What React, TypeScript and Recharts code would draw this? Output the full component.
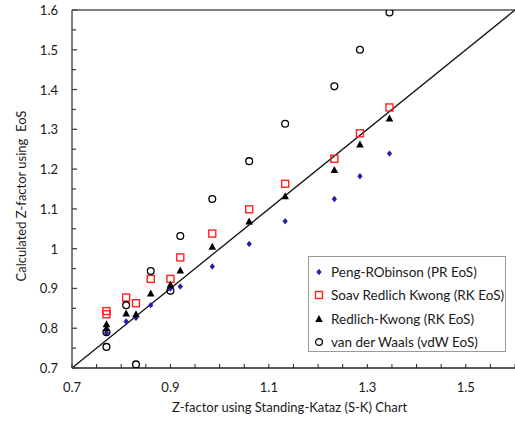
import React from 'react';
import { ScatterChart, Scatter, XAxis, YAxis, ReferenceLine, Legend } from 'recharts';

// x = Z-factor from Standing-Katz chart, y = Z-factor from each EoS
const prX = [0.77, 0.81, 0.83, 0.86, 0.9, 0.92, 0.985, 1.06, 1.133, 1.233, 1.285, 1.345];
const prY = [0.788, 0.817, 0.826, 0.858, 0.9, 0.905, 0.955, 1.012, 1.069, 1.125, 1.182, 1.239];

const srkX = [0.77, 0.77, 0.81, 0.83, 0.86, 0.9, 0.92, 0.985, 1.06, 1.133, 1.233, 1.285, 1.345];
const srkY = [0.843, 0.835, 0.877, 0.863, 0.924, 0.924, 0.978, 1.038, 1.099, 1.163, 1.226, 1.29, 1.355];

const rkX = [0.77, 0.77, 0.81, 0.83, 0.86, 0.9, 0.92, 0.985, 1.06, 1.133, 1.233, 1.285, 1.345];
const rkY = [0.8, 0.81, 0.837, 0.835, 0.887, 0.909, 0.945, 1.005, 1.068, 1.132, 1.198, 1.262, 1.327];

const vdwX = [0.77, 0.77, 0.81, 0.83, 0.86, 0.9, 0.92, 0.985, 1.06, 1.133, 1.233, 1.285, 1.345];
const vdwY = [0.79, 0.753, 0.858, 0.709, 0.944, 0.894, 1.032, 1.125, 1.22, 1.314, 1.408, 1.5, 1.594];

const xTicks = [0.7, 0.75, 0.8, 0.85, 0.9, 0.95, 1, 1.05, 1.1, 1.15, 1.2, 1.25, 1.3, 1.35, 1.4, 1.45, 1.5, 1.55, 1.6];
const xLabels = [0.7, 0.9, 1.1, 1.3, 1.5];
const yTicks = [0.7, 0.75, 0.8, 0.85, 0.9, 0.95, 1, 1.05, 1.1, 1.15, 1.2, 1.25, 1.3, 1.35, 1.4, 1.45, 1.5, 1.55, 1.6];
const yLabels = [0.7, 0.8, 0.9, 1, 1.1, 1.2, 1.3, 1.4, 1.5, 1.6];

const seriesNames = [
  'Peng-RObinson (PR EoS)',
  'Soav Redlich Kwong (RK EoS)',
  'Redlich-Kwong (RK EoS)',
  'van der Waals (vdW EoS)',
];

const zip = (xs: number[], ys: number[]) => xs.map((x, i) => ({ x, y: ys[i] }));

const FONT = 'Lato, "Open Sans", sans-serif';
const TEXT = '#1a1a1a';

const Diamond = ({ cx, cy }: any) => (
  <path d={`M${cx},${cy - 3.2} L${cx + 2.6},${cy} L${cx},${cy + 3.2} L${cx - 2.6},${cy} Z`} fill="#1f1fa8" />
);
const Square = ({ cx, cy }: any) => (
  <rect x={cx - 3.5} y={cy - 3.5} width={7} height={7} fill="none" stroke="#ff2020" strokeWidth={1.4} />
);
const Triangle = ({ cx, cy }: any) => (
  <path d={`M${cx},${cy - 4} L${cx + 3.8},${cy + 3} L${cx - 3.8},${cy + 3} Z`} fill="#000" />
);
const Circle = ({ cx, cy }: any) => (
  <circle cx={cx} cy={cy} r={3.4} fill="none" stroke="#000" strokeWidth={1.3} />
);

const icons = [Diamond, Square, Triangle, Circle];

const XTick = ({ x, y, payload }: any) => {
  const v = payload.value;
  return (
    <g>
      <line x1={x} y1={y} x2={x} y2={y - 4} stroke="#222" strokeWidth={1} />
      {xLabels.some((l) => Math.abs(l - v) < 1e-6) && (
        <text x={x} y={y + 24} textAnchor="middle" fontSize={13} fontFamily={FONT} fill={TEXT}>
          {String(Number(v.toFixed(2)))}
        </text>
      )}
    </g>
  );
};

const YTick = ({ x, y, payload }: any) => {
  const v = payload.value;
  const major = yLabels.some((l) => Math.abs(l - v) < 1e-6);
  return (
    <g>
      <line x1={x} y1={y} x2={x + (major ? 5 : 4)} y2={y} stroke="#444" strokeWidth={1.3} />
      {major && (
        <text x={x - 14} y={y + 5} textAnchor="end" fontSize={13} fontFamily={FONT} fill={TEXT}>
          {String(Number(v.toFixed(2)))}
        </text>
      )}
    </g>
  );
};

const LegendBox = () => (
  <div
    style={{
      width: 198,
      height: 96,
      border: '1px solid #9a9a9a',
      background: '#fff',
      fontFamily: FONT,
      fontSize: 13.5,
      color: TEXT,
      boxSizing: 'border-box',
      paddingTop: 3,
    }}
  >
    {seriesNames.map((name, i) => {
      const Icon = icons[i];
      return (
        <div key={name} style={{ display: 'flex', alignItems: 'center', height: 23.5, paddingLeft: 4 }}>
          <svg width={12} height={12} style={{ marginRight: 6 }}>
            <Icon cx={6} cy={6} />
          </svg>
          <span>{name}</span>
        </div>
      );
    })}
  </div>
);

export default function App() {
  return (
    <div>
      <style>{'body { margin: 0; }'}</style>
      <ScatterChart width={515} height={421} margin={{ top: 10, right: 0, bottom: 0, left: 0 }}>
        <XAxis
          type="number"
          dataKey="x"
          domain={[0.7, 1.6]}
          ticks={xTicks}
          interval={0}
          tickSize={0}
          tickMargin={0}
          tickLine={false}
          tick={<XTick />}
          axisLine={{ stroke: '#222', strokeWidth: 1.5 }}
          height={53}
          allowDataOverflow
          label={{
            value: 'Z-factor using Standing-Kataz (S-K) Chart',
            position: 'insideBottom',
            offset: 9,
            dx: -4,
            fontSize: 13,
            fontFamily: FONT,
            fill: TEXT,
          }}
        />
        <YAxis
          type="number"
          dataKey="y"
          domain={[0.7, 1.6]}
          ticks={yTicks}
          interval={0}
          tickSize={0}
          tickMargin={0}
          tickLine={false}
          tick={<YTick />}
          axisLine={{ stroke: '#808080', strokeWidth: 2 }}
          width={72}
          allowDataOverflow
          label={{
            value: 'Calculated Z-factor using\u00a0 EoS',
            angle: -90,
            position: 'center',
            dx: -15,
            dy: 7,
            fontSize: 13,
            fontFamily: FONT,
            fill: TEXT,
          }}
        />
        <ReferenceLine y={1.6} stroke="#808080" strokeWidth={2} />
        <ReferenceLine
          segment={[
            { x: 0.7, y: 0.7 },
            { x: 1.6, y: 1.6 },
          ]}
          stroke="#111"
          strokeWidth={1.3}
        />
        <Scatter name={seriesNames[0]} data={zip(prX, prY)} shape={<Diamond />} isAnimationActive={false} />
        <Scatter name={seriesNames[1]} data={zip(srkX, srkY)} shape={<Square />} isAnimationActive={false} />
        <Scatter name={seriesNames[2]} data={zip(rkX, rkY)} shape={<Triangle />} isAnimationActive={false} />
        <Scatter name={seriesNames[3]} data={zip(vdwX, vdwY)} shape={<Circle />} isAnimationActive={false} />
        <Legend
          layout="vertical"
          align="center"
          verticalAlign="middle"
          content={<LegendBox />}
          wrapperStyle={{ left: 308, top: 256, width: 198, height: 96 }}
        />
      </ScatterChart>
    </div>
  );
}
